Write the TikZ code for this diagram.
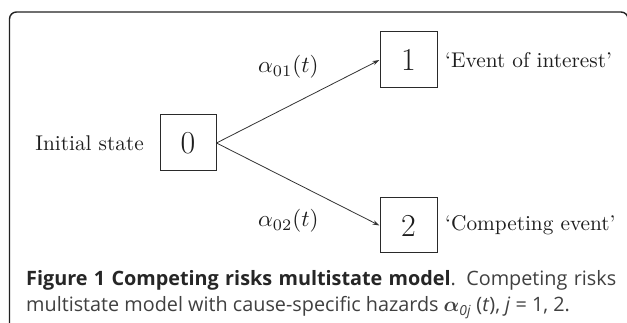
\documentclass[tikz,border=0pt]{standalone}
\usepackage{amsmath,amsbsy}
\usepackage{fontspec}
\newfontfamily\capfont{Open Sans}
\usetikzlibrary{arrows.meta}
\definecolor{framec}{HTML}{222222}
\definecolor{boxc}{HTML}{2A2A2A}
\definecolor{linec}{HTML}{333333}
\definecolor{txtc}{HTML}{1E1E1E}
\definecolor{capbold}{HTML}{262626}
\definecolor{captxt}{HTML}{404040}
\newcommand{\bigtxt}[1]{\scalebox{2.13}{\fontsize{10}{12}\selectfont #1}}
\newcommand{\bigdig}[1]{\scalebox{2.13}{\fontsize{15}{18}\selectfont #1}}
\begin{document}
\begin{tikzpicture}[x=1pt,y=-1pt,
  statebox/.style={draw=boxc, line width=1pt, minimum width=56pt, minimum height=56pt, inner sep=0pt, text=txtc},
  lbl/.style={inner sep=0pt, text=txtc},
  arr/.style={draw=linec, line width=0.8pt, -{Stealth[length=7pt,width=4.5pt]}},
  capnode/.style={inner sep=0pt, text=captxt, font=\capfont\fontsize{19.8}{23}\selectfont},
]
\useasboundingbox (0,0) rectangle (627,323);
\fill[white] (0,0) rectangle (627,323);
\begin{scope}
\clip (0,0) rectangle (627,323);
\draw[framec, line width=1.4pt, rounded corners=7pt] (9.5,12) rectangle (628,345);
\end{scope}
\node[statebox] (s0) at (188,143) {\bigdig{0}};
\node[statebox, minimum width=57pt] (s1) at (408.5,60) {\bigdig{1}};
\node[statebox, minimum width=57pt, minimum height=55pt] (s2) at (408.5,225.5) {\bigdig{2}};
\node[lbl, anchor=east] (init) at (144,143) {\bigtxt{Initial state}};
\node[lbl, anchor=west] (ev1) at (445,60) {\bigtxt{‘Event of interest’}};
\node[lbl, anchor=west] (ev2) at (445,225.5) {\bigtxt{‘Competing event’}};
\node[lbl, anchor=base west] (a01) at (258,73) {\scalebox{2.3}{\fontsize{10}{12}\selectfont $\alpha_{01}(t)$}};
\node[lbl, anchor=base west] (a02) at (258,227) {\scalebox{2.3}{\fontsize{10}{12}\selectfont $\alpha_{02}(t)$}};
\draw[arr] (s0.east) -- (s1.west);
\draw[arr] (s0.east) -- (s2.west);
\node[capnode, anchor=base west] (cap1) at (26,286) {\makebox[590pt][s]{{\color{capbold}\bfseries Figure 1 Competing risks multistate model}. Competing risks}};
\node[capnode, anchor=base west] (cap2) at (26,312) {multistate model with cause-specific hazards {\fontsize{22}{23}\selectfont\boldmath$\alpha$}\textsubscript{\textit{0j}} (\textit{t}), \textit{j} = 1, 2.};
\end{tikzpicture}
\end{document}
